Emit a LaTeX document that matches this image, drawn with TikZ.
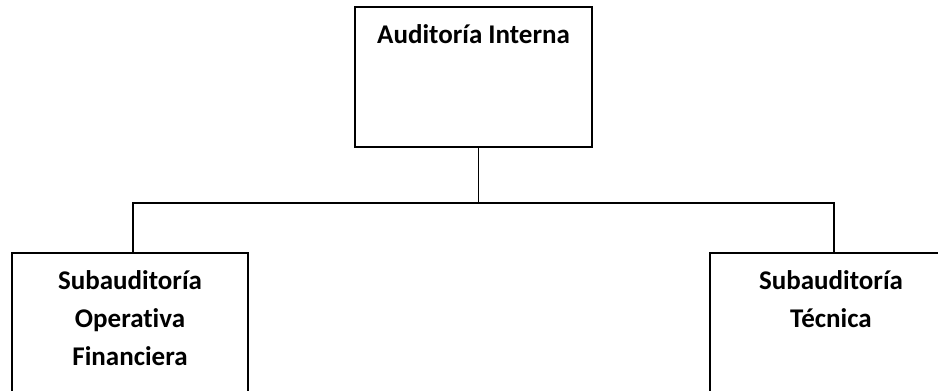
\documentclass[tikz,border=0pt]{standalone}
\usepackage{fontspec}
\setmainfont{Carlito}[Ligatures={NoCommon,NoContextual}]
\usetikzlibrary{positioning}

\begin{document}
\begin{tikzpicture}[x=1pt,y=1pt]
          \useasboundingbox (0,0) rectangle (938,-391);
          \clip (0,0) rectangle (938,-391);
          \begin{scope}[every node/.style={draw,rectangle,line width=1.8pt,inner sep=0pt}]
            \node[minimum width=237pt,minimum height=140pt] (audit) at (473.5,-77) {};
            \node[minimum width=236pt,minimum height=160pt] (subop) at (130,-333) {};
            \node[minimum width=242pt,minimum height=160pt] (subtec) at (831,-333) {};
          \end{scope}
          \begin{scope}[every node/.style={inner sep=0pt,align=center,font=\fontsize{27pt}{38pt}\selectfont\bfseries}]
            \node[below=18pt of audit.north] (audittxt) {Auditoría Interna};
            \node[below=18pt of subop.north] (suboptxt) {Subauditoría\\Operativa\\Financiera};
            \node[below=18pt of subtec.north] (subtectxt) {Subauditoría\\Técnica};
          \end{scope}
          \coordinate (bus) at (0,-203);
          \begin{scope}[every path/.style={line width=1.8pt}]
            \draw ([xshift=5pt]audit.south) -- ([xshift=5pt]audit.south |- bus);
            \draw ([xshift=3pt]subop.north) -- ([xshift=3pt]subop.north |- bus) -| ([xshift=3pt]subtec.north);
          \end{scope}
        \end{tikzpicture}
\end{document}
